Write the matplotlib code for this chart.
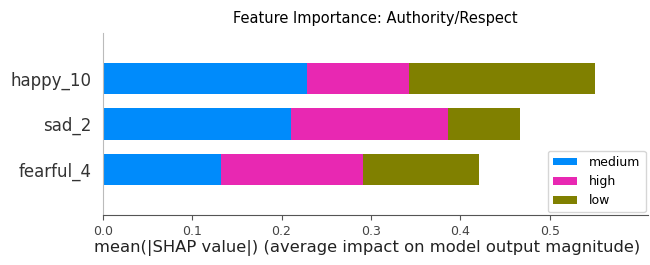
import matplotlib
matplotlib.use("Agg")
import matplotlib.pyplot as plt
import numpy as np

# features, bottom to top
features = ["fearful_4", "sad_2", "happy_10"]
classes = ["medium", "high", "low"]
medium = [0.132, 0.211, 0.229]
high = [0.159, 0.175, 0.114]
low = [0.130, 0.081, 0.208]
colors = ["#008bfb", "#e828b2", "#808000"]

fig = plt.figure(figsize=(6.5, 2.65), dpi=100)
ax = fig.add_axes([0.158, 0.189, 0.839, 0.686])

y = np.arange(len(features))
left = np.zeros(len(features))
for vals, name, c in zip([medium, high, low], classes, colors):
    ax.barh(y, vals, 0.7, left=left, color=c, label=name)
    left += np.array(vals)

ax.set_ylim(-1, len(features))
ax.set_xlim(0, 0.61)
ax.set_xticks([0.0, 0.1, 0.2, 0.3, 0.4, 0.5])
ax.set_yticks(y)
ax.set_yticklabels(features, fontsize=12, color="#333333")
ax.tick_params(axis="x", labelsize=9, colors="#555555", labelcolor="#444444")
ax.tick_params(axis="y", length=0, pad=8)
for s in ["top", "right"]:
    ax.spines[s].set_visible(False)
ax.spines["left"].set_color("#bbbbbb")
ax.spines["bottom"].set_color("#555555")
ax.set_xlabel("mean(|SHAP value|) (average impact on model output magnitude)",
              fontsize=11.8, color="#222222", labelpad=2)
ax.xaxis.label.set_x(0.485)
ax.set_title("Feature Importance: Authority/Respect", fontsize=10.5, pad=7)
ax.legend(loc="lower right", fontsize=9, frameon=True, handlelength=1.9,
          handleheight=0.6, borderaxespad=0.2, labelspacing=0.5,
          handletextpad=1.0)

fig.savefig("out.png", dpi=100)
